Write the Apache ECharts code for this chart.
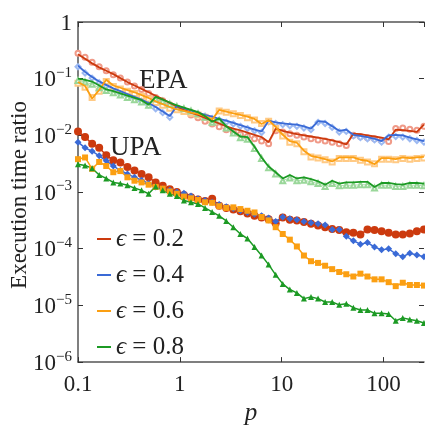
<!DOCTYPE html>
<html>
<head>
<meta charset="utf-8">
<script src="https://cdn.jsdelivr.net/npm/echarts@6/dist/echarts.min.js"></script>
<style>html,body{margin:0;padding:0;background:#fff}#c{width:425px;height:431px}</style>
</head>
<body>
<div id="c"></div>
<script>
// p values (x)
var pValues = [0.1, 0.1173, 0.1376, 0.1614, 0.1894, 0.2222, 0.2606, 0.3057, 0.3587, 0.4208, 0.4936, 0.5791, 0.6793, 0.7969, 0.9348, 1.097, 1.287, 1.509, 1.770, 2.077, 2.436, 2.858, 3.353, 3.933, 4.614, 5.413, 6.350, 7.449, 8.738, 10.25, 12.03, 14.11, 16.55, 19.41, 22.77, 26.72, 31.34, 36.77, 43.13, 50.60, 59.35, 69.63, 81.68, 95.82, 112.4, 131.9, 154.7, 181.5, 212.9, 249.7];

// values, given as log10 of the execution time ratio
var epaLine02 = [-0.57,-0.65,-0.73,-0.80,-0.86,-0.92,-0.99,-1.06,-1.12,-1.18,-1.24,-1.30,-1.36,-1.43,-1.49,-1.55,-1.60,-1.64,-1.69,-1.74,-1.79,-1.84,-1.88,-1.91,-1.95,-1.99,-2.03,-2.12,-1.88,-1.92,-1.95,-1.98,-2.00,-2.02,-2.04,-2.06,-2.09,-2.12,-2.16,-1.97,-1.98,-2.00,-2.02,-2.04,-2.07,-1.90,-1.91,-1.92,-1.94,-1.81];
var epaMark02 = [-0.55,-0.62,-0.71,-0.79,-0.86,-0.93,-0.99,-1.06,-1.13,-1.19,-1.26,-1.33,-1.39,-1.46,-1.52,-1.58,-1.64,-1.69,-1.75,-1.80,-1.85,-1.90,-1.94,-1.98,-2.02,-2.06,-2.10,-2.15,-1.92,-1.94,-1.97,-2.00,-2.03,-2.06,-2.08,-2.10,-2.12,-2.15,-2.18,-2.00,-2.02,-2.04,-2.06,-2.09,-2.11,-1.88,-1.87,-1.89,-1.91,-1.84];
var epaLine04 = [-0.77,-0.88,-0.97,-1.05,-1.11,-1.17,-1.22,-1.27,-1.32,-1.37,-1.43,-1.50,-1.58,-1.66,-1.48,-1.52,-1.56,-1.60,-1.64,-1.67,-1.71,-1.74,-1.78,-1.82,-1.86,-1.90,-1.93,-1.74,-1.77,-1.79,-1.80,-1.81,-1.84,-1.88,-1.75,-1.76,-1.84,-1.92,-1.90,-1.99,-2.01,-2.03,-2.06,-2.10,-2.00,-1.99,-2.00,-2.04,-2.07,-2.10];
var epaMark04 = [-0.79,-0.90,-0.99,-1.07,-1.14,-1.19,-1.25,-1.30,-1.35,-1.40,-1.46,-1.53,-1.60,-1.68,-1.51,-1.55,-1.59,-1.62,-1.66,-1.70,-1.73,-1.77,-1.80,-1.84,-1.88,-1.92,-1.95,-1.76,-1.79,-1.81,-1.83,-1.84,-1.87,-1.90,-1.77,-1.79,-1.86,-1.94,-1.93,-2.01,-2.04,-2.06,-2.08,-2.12,-2.03,-2.02,-2.03,-2.06,-2.09,-2.12];
var epaLine06 = [-1.06,-1.13,-1.35,-1.20,-1.02,-1.12,-1.16,-1.20,-1.24,-1.29,-1.34,-1.40,-1.45,-1.50,-1.54,-1.57,-1.60,-1.62,-1.66,-1.72,-1.55,-1.58,-1.61,-1.64,-1.67,-1.71,-1.80,-1.73,-1.85,-1.99,-2.10,-2.13,-2.27,-2.36,-2.39,-2.42,-2.46,-2.39,-2.39,-2.39,-2.43,-2.45,-2.51,-2.40,-2.40,-2.42,-2.39,-2.40,-2.39,-2.38];
var epaMark06 = [-1.08,-1.15,-1.33,-1.22,-1.05,-1.14,-1.18,-1.22,-1.26,-1.31,-1.36,-1.42,-1.47,-1.52,-1.55,-1.58,-1.61,-1.64,-1.68,-1.73,-1.57,-1.59,-1.62,-1.65,-1.69,-1.73,-1.79,-1.75,-1.88,-2.01,-2.12,-2.15,-2.29,-2.38,-2.40,-2.43,-2.47,-2.41,-2.41,-2.41,-2.44,-2.47,-2.50,-2.42,-2.42,-2.43,-2.41,-2.42,-2.41,-2.40];
var epaLine08 = [-1.00,-1.02,-1.05,-1.12,-1.19,-1.22,-1.26,-1.30,-1.34,-1.38,-1.46,-1.32,-1.37,-1.42,-1.47,-1.51,-1.55,-1.59,-1.66,-1.76,-1.70,-1.84,-1.93,-2.02,-2.03,-2.20,-2.39,-2.55,-2.65,-2.76,-2.70,-2.76,-2.74,-2.77,-2.81,-2.87,-2.80,-2.85,-2.83,-2.83,-2.82,-2.82,-2.91,-2.84,-2.84,-2.86,-2.87,-2.84,-2.84,-2.85];
var epaMark08 = [-1.03,-1.06,-1.10,-1.16,-1.21,-1.25,-1.29,-1.33,-1.37,-1.41,-1.47,-1.36,-1.40,-1.45,-1.49,-1.53,-1.57,-1.62,-1.68,-1.77,-1.74,-1.87,-1.96,-2.04,-2.07,-2.23,-2.41,-2.57,-2.68,-2.80,-2.75,-2.80,-2.79,-2.82,-2.85,-2.90,-2.85,-2.89,-2.88,-2.88,-2.87,-2.87,-2.93,-2.88,-2.88,-2.90,-2.90,-2.88,-2.88,-2.89];

var upa02 = [-1.93,-2.03,-2.15,-2.22,-2.35,-2.44,-2.48,-2.56,-2.62,-2.68,-2.74,-2.83,-2.89,-2.95,-3.00,-3.05,-3.09,-3.13,-3.16,-3.12,-3.24,-3.28,-3.31,-3.34,-3.38,-3.42,-3.45,-3.48,-3.55,-3.45,-3.49,-3.50,-3.53,-3.56,-3.59,-3.62,-3.65,-3.67,-3.71,-3.72,-3.75,-3.66,-3.67,-3.69,-3.72,-3.75,-3.75,-3.73,-3.69,-3.66];
var upa04 = [-2.12,-2.22,-2.28,-2.36,-2.45,-2.54,-2.62,-2.68,-2.74,-2.79,-2.85,-2.91,-2.94,-2.97,-3.00,-3.02,-3.07,-3.12,-3.15,-3.18,-3.22,-3.26,-3.29,-3.33,-3.36,-3.39,-3.42,-3.46,-3.52,-3.44,-3.47,-3.49,-3.52,-3.54,-3.56,-3.58,-3.66,-3.66,-3.78,-3.86,-3.92,-3.89,-3.97,-4.02,-4.00,-4.09,-4.14,-4.08,-4.11,-4.14];
var upa06 = [-2.42,-2.39,-2.59,-2.47,-2.54,-2.65,-2.63,-2.74,-2.80,-2.83,-2.87,-2.91,-2.94,-2.99,-3.03,-3.08,-3.11,-3.14,-3.18,-3.19,-3.25,-3.28,-3.27,-3.30,-3.33,-3.36,-3.44,-3.50,-3.62,-3.74,-3.84,-3.96,-4.12,-4.22,-4.25,-4.30,-4.36,-4.41,-4.45,-4.49,-4.44,-4.49,-4.54,-4.54,-4.59,-4.66,-4.60,-4.64,-4.64,-4.65];
var upa08 = [-2.51,-2.53,-2.58,-2.70,-2.76,-2.83,-2.85,-2.88,-2.93,-2.97,-3.03,-2.90,-2.97,-3.03,-3.07,-3.15,-3.18,-3.21,-3.28,-3.35,-3.42,-3.51,-3.62,-3.74,-3.82,-3.97,-4.12,-4.28,-4.46,-4.62,-4.72,-4.78,-4.88,-4.85,-4.88,-4.94,-4.94,-4.99,-4.97,-5.04,-5.08,-5.08,-5.14,-5.14,-5.15,-5.27,-5.22,-5.25,-5.27,-5.31];

var legendNames = ['ϵ = 0.2', 'ϵ = 0.4', 'ϵ = 0.6', 'ϵ = 0.8'];
var xTickValues = [0.1, 1, 10, 100];

var colors = ['#cc3a0e', '#3a6ad6', '#fb9f12', '#1c9a24'];
var lightColors = ['#f09a88', '#9dbaf2', '#ffca85', '#9ad79a'];
var upaSymbols = ['circle', 'diamond', 'rect', 'triangle'];
var emptySymbols = ['emptyCircle', 'emptyDiamond', 'emptyRect', 'emptyTriangle'];
var upaSizes = [8, 7, 6, 6];

function toPairs(logs) {
  return logs.map(function (v, i) { return [pValues[i], Math.pow(10, v)]; });
}

var FONT = '"Liberation Serif", "Times New Roman", serif';
var epaLines = [epaLine02, epaLine04, epaLine06, epaLine08];
var epaMarks = [epaMark02, epaMark04, epaMark06, epaMark08];
var upas = [upa02, upa04, upa06, upa08];

var series = [];
for (var i = 0; i < 4; i++) {
  series.push({
    name: 'EPA marks ' + i, type: 'line', data: toPairs(epaMarks[i]),
    symbol: emptySymbols[i], symbolSize: 5, showSymbol: true,
    lineStyle: { color: lightColors[i], width: 0.8 },
    itemStyle: { color: lightColors[i], borderColor: lightColors[i], borderWidth: 0.8 },
    z: 2, silent: true, animation: false
  });
}
for (var i = 0; i < 4; i++) {
  series.push({
    name: 'EPA line ' + i, type: 'line', data: toPairs(epaLines[i]),
    symbol: 'none', lineStyle: { color: colors[i], width: 1.8 },
    itemStyle: { color: colors[i] }, z: 3, silent: true, animation: false
  });
}
for (var i = 0; i < 4; i++) {
  series.push({
    name: legendNames[i], type: 'line', data: toPairs(upas[i]),
    symbol: upaSymbols[i], symbolSize: upaSizes[i], showSymbol: true,
    lineStyle: { color: colors[i], width: 1.5 },
    itemStyle: { color: colors[i] }, z: 4, silent: true, animation: false
  });
}

function yFmt(v) {
  var e = Math.round(Math.log10(v));
  if (Math.abs(Math.log10(v) - e) > 1e-6) return '';
  if (e === 0) return '{b|1}';
  return '{b|10}{s|−' + (-e) + '}';
}
function xFmt(v) {
  for (var j = 0; j < xTickValues.length; j++) {
    if (Math.abs(v - xTickValues[j]) / xTickValues[j] < 1e-6) return String(xTickValues[j]);
  }
  return '';
}

var axisLine = { show: true, lineStyle: { color: '#555', width: 1.5 } };
var axisTick = { show: true, inside: true, length: 5, lineStyle: { color: '#333', width: 1 } };

var option = {
  animation: false,
  textStyle: { fontFamily: FONT },
  grid: { left: 78, right: 1, top: 22, bottom: 63, containLabel: false },
  xAxis: [{
    type: 'log', logBase: 10, min: 0.1, max: 250,
    axisLine: axisLine, axisTick: axisTick, splitLine: { show: false }, minorTick: { show: false },
    axisLabel: { formatter: xFmt, fontFamily: FONT, fontSize: 23, color: '#222', margin: 11, showMaxLabel: false },
    name: 'p', nameLocation: 'middle', nameGap: 30,
    nameTextStyle: { fontFamily: FONT, fontStyle: 'italic', fontSize: 25, color: '#222' }
  }, {
    type: 'log', logBase: 10, min: 0.1, max: 250, position: 'top',
    axisLine: axisLine, axisTick: axisTick, splitLine: { show: false },
    axisLabel: { show: false }
  }],
  yAxis: [{
    type: 'log', logBase: 10, min: 1e-6, max: 1,
    axisLine: axisLine, axisTick: axisTick, splitLine: { show: false }, minorTick: { show: false },
    axisLabel: {
      formatter: yFmt, margin: 6, color: '#222', fontFamily: FONT, fontSize: 23,
      rich: {
        b: { fontFamily: FONT, fontSize: 23, color: '#222', lineHeight: 26, verticalAlign: 'bottom' },
        s: { fontFamily: FONT, fontSize: 15, color: '#222', lineHeight: 15, verticalAlign: 'top' }
      }
    }
  }, {
    type: 'log', logBase: 10, min: 1e-6, max: 1, position: 'right',
    axisLine: { show: false }, axisTick: axisTick, splitLine: { show: false },
    axisLabel: { show: false }
  }],
  legend: {
    data: legendNames, orient: 'vertical', left: 92, top: 220,
    icon: 'rect', itemWidth: 14, itemHeight: 2, itemGap: 8,
    formatter: function (name) { return '{e|ϵ}' + name.slice(1); },
    textStyle: {
      fontFamily: FONT, fontSize: 25, color: '#222', lineHeight: 28,
      rich: { e: { fontFamily: FONT, fontStyle: 'italic', fontSize: 25, color: '#222', lineHeight: 28 } }
    },
    selectedMode: false
  },
  graphic: [
    { type: 'text', left: 139, top: 67, style: { text: 'EPA', fontFamily: FONT, fontSize: 27, fill: '#222' } },
    { type: 'text', left: 110, top: 134, style: { text: 'UPA', fontFamily: FONT, fontSize: 27, fill: '#222' } },
    { type: 'text', x: 20, y: 195, rotation: Math.PI / 2,
      style: { text: 'Execution time ratio', fontFamily: FONT, fontSize: 23, fill: '#222', align: 'center', verticalAlign: 'middle' } }
  ],
  series: series
};

var chart = echarts.init(document.getElementById('c'), null, { renderer: 'canvas' });
chart.setOption(option);
</script>
</body>
</html>
